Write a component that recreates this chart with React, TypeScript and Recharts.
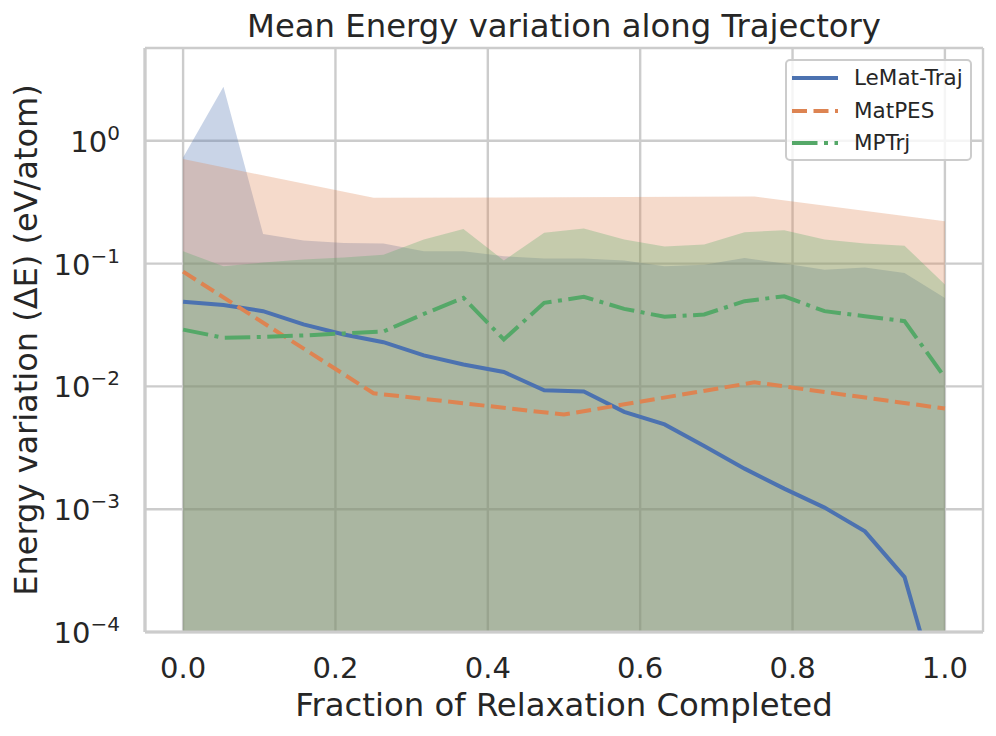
import React from "react"
import {
  ComposedChart,
  Area,
  Line,
  XAxis,
  YAxis,
  CartesianGrid,
  Legend,
  Label,
} from "recharts"

const FONT = '"DejaVu Sans", "Liberation Sans", sans-serif'
const INK = "#262626"
const GRID = "#cccccc"

// sampling points along the trajectory (fraction of relaxation)
const trajX = [
  0, 0.053, 0.105, 0.158, 0.211, 0.263, 0.316, 0.368, 0.421, 0.474,
  0.526, 0.579, 0.632, 0.684, 0.737, 0.789, 0.842, 0.895, 0.947, 1.0,
]
const matpesX = [0, 0.25, 0.5, 0.75, 1.0]

const lematMean = [
  0.049, 0.046, 0.041, 0.032, 0.0265, 0.0229, 0.0179, 0.0151, 0.0131, 0.0093,
  0.0091, 0.0062, 0.0049, 0.00327, 0.00214, 0.00147, 0.00103, 0.00066, 0.00028, 0.00002,
]
const lematUpper = [
  0.73, 2.76, 0.174, 0.154, 0.147, 0.146, 0.126, 0.126, 0.115, 0.11,
  0.11, 0.106, 0.095, 0.098, 0.111, 0.1, 0.089, 0.093, 0.084, 0.0525,
]

const matpesMean = [0.086, 0.0088, 0.0059, 0.0108, 0.0066]
const matpesUpper = [0.71, 0.344, 0.347, 0.352, 0.221]

const mptrjMean = [
  0.029, 0.0249, 0.0253, 0.026, 0.027, 0.028, 0.0389, 0.0526, 0.0241, 0.0479,
  0.0536, 0.0428, 0.0369, 0.0385, 0.0494, 0.0542, 0.041, 0.0373, 0.034, 0.0118,
]
const mptrjUpper = [
  0.126, 0.095, 0.102, 0.108, 0.112, 0.118, 0.157, 0.191, 0.106, 0.178,
  0.193, 0.157, 0.138, 0.143, 0.18, 0.187, 0.157, 0.146, 0.14, 0.0675,
]

const xTicks = [0, 0.2, 0.4, 0.6, 0.8, 1.0]
const yTicks = [1e-4, 1e-3, 1e-2, 1e-1, 1]

// mean - std goes negative, so the band's lower edge sits at the axis floor
const FLOOR = 1e-4

const series = [
  { name: "LeMat-Traj", color: "#4c72b0", dash: undefined as string | undefined },
  { name: "MatPES", color: "#dd8452", dash: "15 6.5" },
  { name: "MPTrj", color: "#55a868", dash: "25.5 6.5 4 6.5" },
]

const lematData = trajX.map((x, i) => ({ x, mean: lematMean[i], band: [FLOOR, lematUpper[i]] }))
const matpesData = matpesX.map((x, i) => ({ x, mean: matpesMean[i], band: [FLOOR, matpesUpper[i]] }))
const mptrjData = trajX.map((x, i) => ({ x, mean: mptrjMean[i], band: [FLOOR, mptrjUpper[i]] }))
const datasets = [lematData, matpesData, mptrjData]

function LogTick({ x, y, payload }: any) {
  const exp = Math.round(Math.log10(payload.value))
  return (
    <text x={x} y={y + 11} textAnchor="end" fontFamily={FONT} fontSize={29} fill={INK}>
      10
      <tspan dy={-12} fontSize={20}>
        {exp < 0 ? `\u2212${-exp}` : String(exp)}
      </tspan>
    </text>
  )
}

function LegendBox() {
  return (
    <div
      style={{
        position: "relative",
        width: 187,
        height: 102,
        boxSizing: "border-box",
        border: `2px solid ${GRID}`,
        borderRadius: 5,
        background: "rgba(255,255,255,0.8)",
        fontFamily: FONT,
        fontSize: 21.5,
        color: INK,
      }}
    >
      {series.map((s, i) => (
        <div
          key={s.name}
          style={{ position: "absolute", left: 0, top: [5, 38, 70][i], height: 24, width: 185 }}
        >
          <svg width={50} height={24} style={{ position: "absolute", left: 5, top: 0 }}>
            <line
              x1={0}
              x2={46}
              y1={12}
              y2={12}
              stroke={s.color}
              strokeWidth={4}
              strokeDasharray={s.dash}
            />
          </svg>
          <span style={{ position: "absolute", left: 67, top: 0, lineHeight: "24px", whiteSpace: "nowrap" }}>
            {s.name}
          </span>
        </div>
      ))}
    </div>
  )
}

export default function App() {
  return (
    <div style={{ position: "absolute", left: 0, top: 0, width: 996, height: 736, background: "#fff" }}>
      <div
        style={{
          position: "absolute",
          left: 145,
          top: 10,
          width: 838,
          textAlign: "center",
          fontFamily: FONT,
          fontSize: 32.3,
          lineHeight: "32px",
          color: INK,
          zIndex: 2,
        }}
      >
        Mean Energy variation along Trajectory
      </div>
      <ComposedChart width={996} height={736} margin={{ top: 48, right: 13, bottom: 0, left: 0 }}>
        <CartesianGrid stroke={GRID} strokeWidth={2.4} />
        {datasets.map((d, i) => (
          <Area
            key={`band-${series[i].name}`}
            data={d}
            dataKey="band"
            type="linear"
            fill={series[i].color}
            fillOpacity={0.3}
            stroke="none"
            isAnimationActive={false}
            legendType="none"
            activeDot={false}
          />
        ))}
        {datasets.map((d, i) => (
          <Line
            key={`line-${series[i].name}`}
            data={d}
            dataKey="mean"
            name={series[i].name}
            type="linear"
            stroke={series[i].color}
            strokeWidth={4}
            strokeDasharray={series[i].dash}
            dot={false}
            activeDot={false}
            isAnimationActive={false}
          />
        ))}
        <XAxis
          dataKey="x"
          type="number"
          domain={[-0.05, 1.05]}
          ticks={xTicks}
          interval={0}
          tickFormatter={(v: number) => v.toFixed(1)}
          tick={{ fontSize: 29, fill: INK, fontFamily: FONT }}
          tickLine={false}
          tickSize={0}
          tickMargin={25}
          axisLine={{ stroke: GRID, strokeWidth: 3.2 }}
          height={104}
        >
          <Label
            content={({ viewBox }: any) => (
              <text
                x={viewBox.x + viewBox.width / 2}
                y={716}
                textAnchor="middle"
                fontFamily={FONT}
                fontSize={32.3}
                fill={INK}
              >
                Fraction of Relaxation Completed
              </text>
            )}
          />
        </XAxis>
        <XAxis
          xAxisId="top"
          orientation="top"
          type="number"
          domain={[-0.05, 1.05]}
          height={0}
          tick={false}
          tickLine={false}
          axisLine={{ stroke: GRID, strokeWidth: 3.2 }}
        />
        <YAxis
          type="number"
          scale="log"
          domain={[1e-4, 5.7]}
          allowDataOverflow
          ticks={yTicks}
          interval={0}
          tick={<LogTick />}
          tickLine={false}
          tickSize={0}
          tickMargin={25}
          axisLine={{ stroke: GRID, strokeWidth: 3.2 }}
          width={145}
        >
          <Label
            content={({ viewBox }: any) => {
              const cy = viewBox.y + viewBox.height / 2
              return (
                <text
                  x={37}
                  y={cy}
                  transform={`rotate(-90, 37, ${cy})`}
                  textAnchor="middle"
                  fontFamily={FONT}
                  fontSize={32}
                  fill={INK}
                >
                  Energy variation (ΔE) (eV/atom)
                </text>
              )
            }}
          />
        </YAxis>
        <YAxis
          yAxisId="right"
          orientation="right"
          type="number"
          width={0}
          tick={false}
          tickLine={false}
          axisLine={{ stroke: GRID, strokeWidth: 3.2 }}
        />
        <Legend
          layout="vertical"
          align="center"
          verticalAlign="middle"
          wrapperStyle={{ left: 785, top: 59, width: 187, height: 102 }}
          content={() => <LegendBox />}
        />
      </ComposedChart>
    </div>
  )
}
